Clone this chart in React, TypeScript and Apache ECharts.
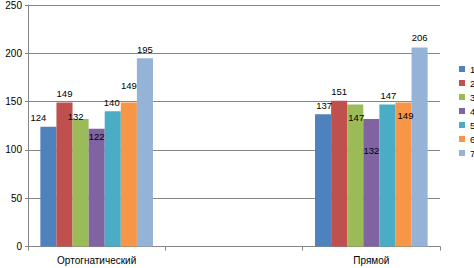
import React, { useEffect, useRef } from "react";
import * as echarts from "echarts";

const categories = ["Ортогнатический", "", "Прямой"];
const seriesNames = ["1", "2", "3", "4", "5", "6", "7"];
const orthoValues = [124, 149, 132, 122, 140, 149, 195];
const pryamoiValues = [137, 151, 147, 132, 147, 149, 206];
const yTicks = [0, 50, 100, 150, 200, 250];

const colors = ["#4F81BD", "#C0504D", "#9BBB59", "#8064A2", "#4BACC6", "#F79646", "#95B3D7"];
// label nudges (layout only) reproducing the reference's manually placed labels
const orthoLabelNudge = [[-10, 0], [0, 0], [-5, 7], [0, 17], [-1, 0], [0, -8], [0, 0]];
const pryamoiLabelNudge = [[1, 0], [0, 0], [1, 22], [0, 41], [1, 0], [2, 22], [0, -1]];

const FONT = "Liberation Sans";

export default function App() {
  const ref = useRef<HTMLDivElement>(null);
  useEffect(() => {
    if (!ref.current) return;
    const chart = echarts.init(ref.current, undefined, { renderer: "svg" });
    const series = seriesNames.map((name, i) => ({
      name,
      type: "bar",
      barGap: "0%",
      barCategoryGap: "18%",
      itemStyle: { color: colors[i] },
      label: {
        show: true,
        position: "top",
        distance: 4,
        color: "#000",
        fontSize: 9.5,
        fontFamily: FONT,
      },
      data: [
        { value: orthoValues[i], label: { offset: orthoLabelNudge[i] } },
        null,
        { value: pryamoiValues[i], label: { offset: pryamoiLabelNudge[i] } },
      ],
    }));
    chart.setOption({
      animation: false,
      textStyle: { fontFamily: FONT },
      grid: { left: 28, right: 34, top: 5, bottom: 21.5, containLabel: false },
      legend: {
        orient: "vertical",
        left: 459,
        top: 62,
        padding: 0,
        itemWidth: 6,
        itemHeight: 6,
        itemGap: 0,
        itemTextGap: 3,
        icon: "rect",
        data: seriesNames,
        textStyle: { fontSize: 9.5, color: "#000", fontFamily: FONT, lineHeight: 14 },
      },
      xAxis: {
        type: "category",
        data: categories,
        axisLine: { show: true, lineStyle: { color: "#868686" } },
        axisTick: { show: true, length: 4, lineStyle: { color: "#868686" } },
        axisLabel: { color: "#000", fontSize: 10, fontFamily: FONT, margin: 9 },
      },
      yAxis: {
        type: "value",
        min: yTicks[0],
        max: yTicks[yTicks.length - 1],
        interval: 50,
        axisLine: { show: true, lineStyle: { color: "#868686" } },
        axisTick: { show: true, length: 3, lineStyle: { color: "#868686" } },
        splitLine: { show: true, lineStyle: { color: "#868686" } },
        axisLabel: { color: "#000", fontSize: 10, fontFamily: FONT, margin: 6 },
      },
      series,
    });
    return () => chart.dispose();
  }, []);
  return <div ref={ref} style={{ position: "fixed", left: 0, top: 0, width: 474, height: 268, background: "#fff" }} />;
}
